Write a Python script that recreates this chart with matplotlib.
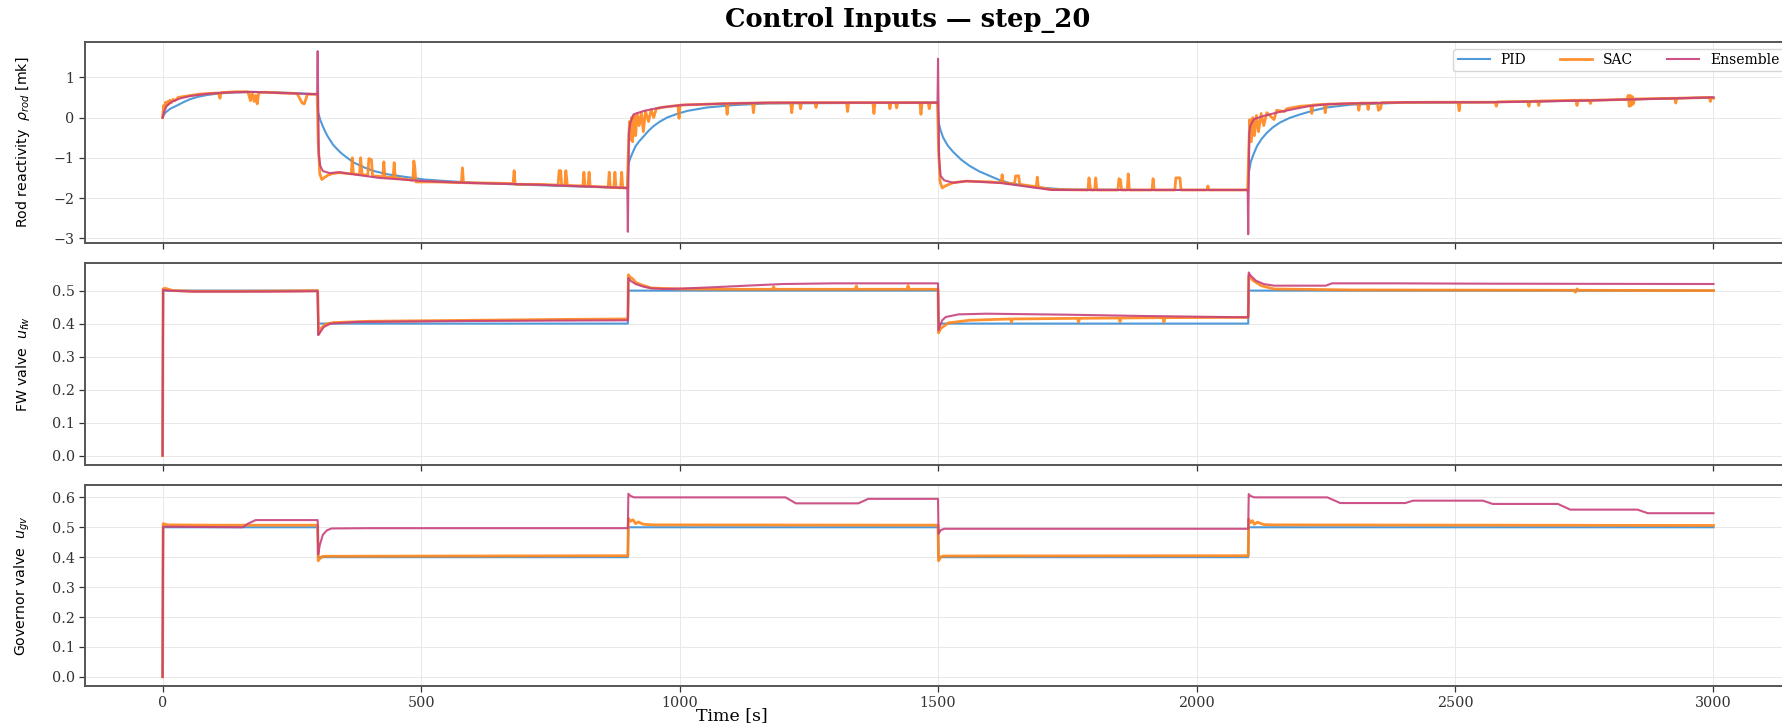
import numpy as np
import matplotlib
matplotlib.use("Agg")
import matplotlib.pyplot as plt

# Series: (time [s], value) pairs
series_names = ["PID", "SAC", "Ensemble"]
series_colors = ["#3d8fd6", "#ff8519", "#c7417b"]

# Rod reactivity [mk]
rod_pid = [(0, 0.0), (5, 0.12), (15, 0.22), (28, 0.30), (40, 0.38), (54, 0.46), (70, 0.52),
           (86, 0.56), (110, 0.60), (140, 0.625), (180, 0.635), (230, 0.62), (299, 0.58),
           (301, 0.12), (305, -0.06), (310, -0.22), (315, -0.36), (319, -0.46), (325, -0.58),
           (330, -0.68), (338, -0.79), (346, -0.89), (355, -0.98), (370, -1.12), (390, -1.24),
           (409, -1.33), (435, -1.41), (461, -1.46), (506, -1.54), (550, -1.58), (602, -1.62),
           (700, -1.67), (796, -1.71), (899, -1.75),
           (901, -1.15), (905, -1.00), (910, -0.85), (915, -0.71), (922, -0.59), (931, -0.46),
           (940, -0.33), (950, -0.21), (962, -0.10), (976, 0.0), (995, 0.09), (1015, 0.165),
           (1053, 0.25), (1105, 0.31), (1169, 0.35), (1300, 0.36), (1499, 0.37),
           (1501, -0.12), (1505, -0.32), (1510, -0.50), (1519, -0.70), (1529, -0.85),
           (1545, -1.05), (1561, -1.20), (1580, -1.34), (1600, -1.45), (1620, -1.56),
           (1639, -1.63), (1685, -1.73), (1750, -1.79), (1900, -1.80), (2099, -1.80),
           (2101, -1.38), (2105, -1.10), (2110, -0.92), (2117, -0.71), (2126, -0.53),
           (2136, -0.38), (2148, -0.24), (2162, -0.12), (2180, -0.01), (2201, 0.08),
           (2225, 0.17), (2252, 0.25), (2298, 0.32), (2400, 0.37), (2550, 0.38), (2750, 0.42),
           (2870, 0.46), (3000, 0.50)]

rod_sac = [(0, 0.0), (2, 0.30), (4, 0.22), (6, 0.38), (8, 0.30), (10, 0.40), (12, 0.33),
           (14, 0.43), (17, 0.37), (20, 0.45), (24, 0.42), (30, 0.50), (40, 0.52), (54, 0.55),
           (70, 0.58), (90, 0.60), (108, 0.61), (111, 0.48), (113, 0.62), (140, 0.64),
           (165, 0.64), (170, 0.42), (173, 0.63), (177, 0.40), (180, 0.55), (183, 0.34),
           (186, 0.62), (200, 0.63), (230, 0.61), (260, 0.60), (270, 0.36), (274, 0.34),
           (277, 0.45), (280, 0.58), (299, 0.58),
           (301, -0.6), (304, -1.40), (308, -1.54), (312, -1.50), (320, -1.43), (330, -1.39),
           (342, -1.37), (365, -1.40), (367, -1.00), (369, -1.40), (381, -1.42), (383, -1.00),
           (386, -1.42), (397, -1.43), (399, -1.02), (404, -1.05), (406, -1.45), (426, -1.47),
           (428, -1.10), (430, -1.48), (446, -1.49), (448, -1.12), (450, -1.50), (484, -1.56),
           (486, -1.08), (488, -1.25), (490, -1.60), (530, -1.60), (578, -1.62), (580, -1.25),
           (582, -1.62), (640, -1.63), (678, -1.64), (680, -1.32), (682, -1.66), (730, -1.66),
           (765, -1.68), (767, -1.32), (770, -1.32), (772, -1.68), (778, -1.69), (780, -1.32),
           (783, -1.69), (813, -1.70), (815, -1.36), (817, -1.71), (823, -1.70), (825, -1.36),
           (827, -1.71), (862, -1.73), (864, -1.36), (866, -1.74), (873, -1.74), (875, -1.36),
           (877, -1.74), (886, -1.75), (888, -1.36), (890, -1.75), (899, -1.75),
           (901, -0.8), (903, -0.10), (905, -0.55), (907, 0.00), (909, -0.60), (912, 0.05),
           (915, -0.45), (918, 0.10), (922, -0.20), (926, 0.12), (930, -0.35), (934, 0.16),
           (940, -0.10), (945, 0.20), (950, 0.00), (955, 0.22), (970, 0.26), (997, 0.30),
           (999, -0.02), (1001, 0.31), (1050, 0.33), (1090, 0.35), (1092, 0.08), (1094, 0.35),
           (1141, 0.36), (1143, 0.12), (1145, 0.36), (1215, 0.37), (1217, 0.12), (1219, 0.37),
           (1232, 0.37), (1234, 0.22), (1236, 0.37), (1262, 0.37), (1264, 0.25), (1266, 0.37),
           (1323, 0.37), (1325, 0.15), (1327, 0.37), (1374, 0.37), (1376, 0.10), (1378, 0.37),
           (1405, 0.37), (1407, 0.22), (1409, 0.37), (1418, 0.37), (1420, 0.24), (1422, 0.37),
           (1465, 0.37), (1467, 0.08), (1469, 0.37), (1481, 0.37), (1483, 0.22), (1485, 0.37),
           (1499, 0.37),
           (1501, -0.8), (1504, -1.60), (1508, -1.75), (1514, -1.70), (1529, -1.62),
           (1555, -1.58), (1600, -1.60), (1622, -1.62), (1624, -1.42), (1626, -1.62),
           (1648, -1.65), (1650, -1.45), (1656, -1.45), (1658, -1.66), (1690, -1.72),
           (1692, -1.48), (1694, -1.73), (1720, -1.79), (1790, -1.80), (1792, -1.50),
           (1795, -1.80), (1803, -1.80), (1805, -1.50), (1807, -1.80), (1848, -1.80),
           (1850, -1.52), (1853, -1.55), (1855, -1.80), (1866, -1.80), (1868, -1.40),
           (1870, -1.80), (1914, -1.80), (1916, -1.52), (1918, -1.80), (1958, -1.80),
           (1960, -1.50), (1968, -1.50), (1970, -1.80), (2020, -1.80), (2022, -1.70),
           (2024, -1.80), (2099, -1.80),
           (2101, -0.8), (2103, -0.05), (2106, -0.60), (2109, 0.00), (2112, -0.45), (2116, 0.05),
           (2120, -0.35), (2125, 0.10), (2130, -0.20), (2136, 0.12), (2150, -0.05), (2155, 0.18),
           (2170, 0.15), (2175, 0.22), (2200, 0.28), (2221, 0.30), (2223, 0.10), (2225, 0.31),
           (2247, 0.33), (2249, 0.12), (2251, 0.33), (2300, 0.35), (2312, 0.35), (2314, 0.18),
           (2316, 0.36), (2330, 0.36), (2332, 0.20), (2334, 0.36), (2350, 0.36), (2352, 0.18),
           (2356, 0.22), (2358, 0.37), (2450, 0.38), (2506, 0.38), (2508, 0.17), (2510, 0.38),
           (2578, 0.38), (2580, 0.28), (2582, 0.39), (2641, 0.40), (2643, 0.28), (2645, 0.40),
           (2660, 0.41), (2662, 0.30), (2664, 0.41), (2734, 0.43), (2736, 0.30), (2738, 0.43),
           (2760, 0.43), (2762, 0.35), (2764, 0.43), (2833, 0.45), (2835, 0.55), (2837, 0.28),
           (2839, 0.55), (2841, 0.30), (2843, 0.52), (2845, 0.34), (2847, 0.46), (2925, 0.48),
           (2927, 0.36), (2929, 0.48), (2992, 0.50), (2994, 0.40), (2996, 0.50), (3000, 0.48)]

rod_ens = [(0, 0.0), (4, 0.18), (8, 0.29), (14, 0.36), (21, 0.41), (35, 0.48), (54, 0.535),
           (80, 0.58), (118, 0.62), (170, 0.64), (230, 0.61), (299, 0.58),
           (300, 1.65), (302, -0.9), (305, -1.2), (310, -1.33), (323, -1.38), (342, -1.36),
           (374, -1.42), (419, -1.50), (506, -1.58), (602, -1.63), (731, -1.67), (899, -1.75),
           (900, -2.84), (902, -0.4), (905, -0.12), (911, 0.08), (931, 0.165), (963, 0.25),
           (1008, 0.315), (1100, 0.35), (1169, 0.37), (1499, 0.37),
           (1500, 1.46), (1502, -1.0), (1505, -1.45), (1512, -1.56), (1529, -1.62),
           (1555, -1.58), (1620, -1.625), (1685, -1.74), (1720, -1.80), (1900, -1.80),
           (2099, -1.80),
           (2100, -2.90), (2102, -0.4), (2104, -0.21), (2111, -0.04), (2130, 0.04),
           (2156, 0.125), (2188, 0.21), (2220, 0.29), (2254, 0.33), (2298, 0.35), (2406, 0.38),
           (2575, 0.38), (2744, 0.42), (2870, 0.46), (3000, 0.50)]

# Feedwater valve
fw_pid = [(0, 0.0), (1, 0.5), (300, 0.5), (301, 0.4), (900, 0.4), (901, 0.5), (1500, 0.5),
          (1501, 0.4), (2100, 0.4), (2101, 0.5), (3000, 0.5)]

fw_sac = [(0, 0.0), (1, 0.505), (5, 0.507), (20, 0.5), (60, 0.498), (150, 0.498), (250, 0.499),
          (300, 0.50), (302, 0.368), (306, 0.385), (315, 0.398), (330, 0.403), (400, 0.407),
          (600, 0.41), (800, 0.413), (900, 0.414), (901, 0.548), (905, 0.54), (910, 0.535),
          (915, 0.525), (925, 0.518), (945, 0.508), (1000, 0.505), (1100, 0.504), (1180, 0.504),
          (1182, 0.512), (1184, 0.504), (1340, 0.504), (1342, 0.514), (1344, 0.504),
          (1440, 0.504), (1442, 0.515), (1444, 0.504), (1500, 0.504), (1501, 0.372),
          (1505, 0.385), (1520, 0.402), (1560, 0.41), (1640, 0.414), (1642, 0.405),
          (1644, 0.414), (1770, 0.416), (1772, 0.405), (1774, 0.416), (1850, 0.417),
          (1852, 0.406), (1854, 0.417), (1935, 0.418), (1937, 0.405), (1939, 0.418),
          (2100, 0.419), (2101, 0.545), (2110, 0.53), (2125, 0.515), (2150, 0.505),
          (2300, 0.502), (2730, 0.501), (2733, 0.495), (2736, 0.505), (2739, 0.501),
          (3000, 0.50)]

fw_ens = [(0, 0.0), (1, 0.502), (10, 0.5), (60, 0.497), (200, 0.497), (300, 0.498),
          (301, 0.365), (304, 0.372), (312, 0.39), (325, 0.40), (375, 0.405), (600, 0.408),
          (900, 0.41), (901, 0.538), (905, 0.53), (915, 0.52), (930, 0.512), (945, 0.507),
          (970, 0.505), (1000, 0.506), (1063, 0.51), (1130, 0.515), (1200, 0.52), (1300, 0.522),
          (1500, 0.522), (1501, 0.38), (1503, 0.39), (1508, 0.41), (1515, 0.42), (1540, 0.428),
          (1594, 0.43), (1750, 0.427), (1900, 0.423), (2100, 0.419), (2101, 0.555),
          (2105, 0.545), (2115, 0.53), (2130, 0.52), (2150, 0.515), (2250, 0.515),
          (2262, 0.522), (2390, 0.522), (2560, 0.521), (3000, 0.52)]

# Governor valve
gv_pid = [(0, 0.0), (1, 0.5), (300, 0.5), (301, 0.4), (900, 0.4), (901, 0.5), (1500, 0.5),
          (1501, 0.4), (2100, 0.4), (2101, 0.5), (3000, 0.5)]

gv_sac = [(0, 0.0), (1, 0.512), (10, 0.508), (100, 0.507), (300, 0.507), (301, 0.388),
          (304, 0.395), (310, 0.403), (900, 0.405), (901, 0.53), (905, 0.52), (910, 0.525),
          (915, 0.512), (920, 0.518), (930, 0.51), (950, 0.508), (1500, 0.507), (1501, 0.388),
          (1505, 0.40), (1510, 0.404), (2100, 0.405), (2101, 0.527), (2104, 0.515),
          (2108, 0.522), (2112, 0.51), (2118, 0.517), (2130, 0.509), (2150, 0.508),
          (3000, 0.506)]

gv_ens = [(0, 0.0), (1, 0.502), (155, 0.50), (165, 0.512), (180, 0.524), (300, 0.524),
          (301, 0.41), (304, 0.44), (310, 0.475), (318, 0.49), (327, 0.496), (400, 0.497),
          (900, 0.497), (901, 0.612), (905, 0.605), (912, 0.60), (1205, 0.60), (1225, 0.58),
          (1346, 0.58), (1365, 0.595), (1500, 0.595), (1501, 0.478), (1505, 0.49),
          (1512, 0.495), (2100, 0.495), (2101, 0.611), (2104, 0.605), (2112, 0.60),
          (2253, 0.60), (2278, 0.581), (2404, 0.581), (2419, 0.589), (2554, 0.589),
          (2573, 0.578), (2699, 0.578), (2723, 0.559), (2853, 0.559), (2873, 0.547),
          (3000, 0.547)]

panel_labels = [r"Rod reactivity  $\rho_{rod}$ [mk]", r"FW valve  $u_{fw}$",
                r"Governor valve  $u_{gv}$"]
panel_data = [[rod_pid, rod_sac, rod_ens], [fw_pid, fw_sac, fw_ens], [gv_pid, gv_sac, gv_ens]]
x_ticks = [0, 500, 1000, 1500, 2000, 2500, 3000]

plt.rcParams['font.family'] = ['DejaVu Serif']
plt.rcParams['mathtext.fontset'] = 'dejavusans'

fig, axes = plt.subplots(3, 1, figsize=(17.83, 7.28), dpi=100, sharex=True)
fig.subplots_adjust(left=0.0477, right=1.0045, top=0.9423, bottom=0.0577, hspace=0.099)

for ax, label, group in zip(axes, panel_labels, panel_data):
    for name, color, pts in zip(series_names, series_colors, group):
        t, v = np.array(pts).T
        lw = 2.0 if name == "SAC" else 1.5
        ax.plot(t, v, color=color, lw=lw, alpha=0.9, label=name)
    ax.set_ylabel(label, family='DejaVu Sans', fontsize=10.2)
    ax.grid(True, color='#e8e8e8', lw=0.7)
    for side in ['left', 'top', 'bottom', 'right']:
        ax.spines[side].set_color('#555555')
        ax.spines[side].set_linewidth(1.4)
    ax.tick_params(labelsize=10.3, colors='#333333', length=4, width=0.9)
    ax.yaxis.set_label_coords(-0.031, 0.5)

axes[0].set_yticks([1, 0, -1, -2, -3])
axes[1].set_yticks([0.0, 0.1, 0.2, 0.3, 0.4, 0.5])
axes[2].set_yticks([0.0, 0.1, 0.2, 0.3, 0.4, 0.5, 0.6])
axes[2].set_xticks(x_ticks)
axes[2].set_xlim(-150, 3150)
axes[2].set_xlabel("Time [s]", fontsize=12.5)
axes[2].xaxis.set_label_coords(0.379, -0.105)

leg = axes[0].legend(loc='upper right', ncol=3, fontsize=10, frameon=True, handlelength=2.3,
                     columnspacing=2.45, handletextpad=0.8, borderpad=0.3, fancybox=True)
leg.get_frame().set_edgecolor('#cccccc')

fig.suptitle("Control Inputs — step_20", fontsize=18.5, fontweight='bold', x=0.509, y=0.99)

plt.savefig("out.png", dpi=100)
